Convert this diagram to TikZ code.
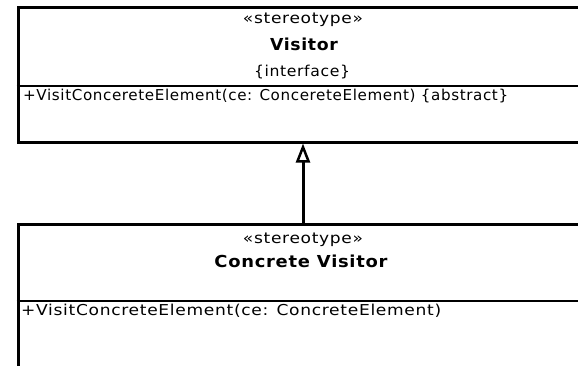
\documentclass[tikz,border=0pt]{standalone}
\usepackage{fontspec}
\usepackage{graphicx}
\setmainfont{DejaVu Sans}
\newfontfamily\umlfont[LetterSpace=4]{DejaVu Sans}
\usetikzlibrary{arrows.meta}
\newcommand\fitto[2]{\resizebox{#1}{\height}{#2}}
\begin{document}
\begin{tikzpicture}[x=1pt,y=-1pt,
  box/.style={draw,line width=3pt,rectangle,inner sep=0pt,minimum width=582pt},
  txt/.style={inner sep=0pt,font=\umlfont\fontsize{15pt}{17pt}\selectfont},
  btxt/.style={inner sep=0pt,font=\umlfont\bfseries\fontsize{16.5pt}{18pt}\selectfont},
  sep/.style={line width=2.5pt},
  inherit/.style={line width=3pt,-{Triangle[open,length=19pt,width=14pt,line width=2.5pt]}}]
\useasboundingbox (0,0) rectangle (578,365);
\clip (0,0) rectangle (578,365);
% boxes
\node[box,minimum height=135pt] (v) at (309,74.5) {};
\node[box,minimum height=176pt] (cv) at (309,312) {};
% compartment separators
\coordinate (sa) at (0,86);
\coordinate (sb) at (0,301);
\draw[sep] (v.west |- sa) -- (v.east |- sa);
\draw[sep] (cv.west |- sb) -- (cv.east |- sb);
% texts of Visitor
\node[txt] (vs) at (303,20) {\fitto{120pt}{«stereotype»}};
\node[btxt] (vn) at (304,44) {\fitto{68pt}{Visitor}};
\node[txt] (vi) at (302,72) {\fitto{96pt}{\{interface\}}};
\node[txt,anchor=west] (vm) at (23,96.5) {\fitto{485pt}{+VisitConcereteElement(ce: ConcereteElement) \{abstract\}}};
% texts of ConcreteVisitor
\node[txt] (cs) at (303,240) {\fitto{120pt}{«stereotype»}};
\node[btxt] (cn) at (301,261) {\fitto{173pt}{Concrete Visitor}};
\node[txt,anchor=west] (cm) at (21,310.5) {\fitto{420pt}{+VisitConcreteElement(ce: ConcreteElement)}};
% generalization
\coordinate (ax) at (303,0);
\draw[inherit] (cv.north -| ax) -- (v.south -| ax);
\end{tikzpicture}
\end{document}
